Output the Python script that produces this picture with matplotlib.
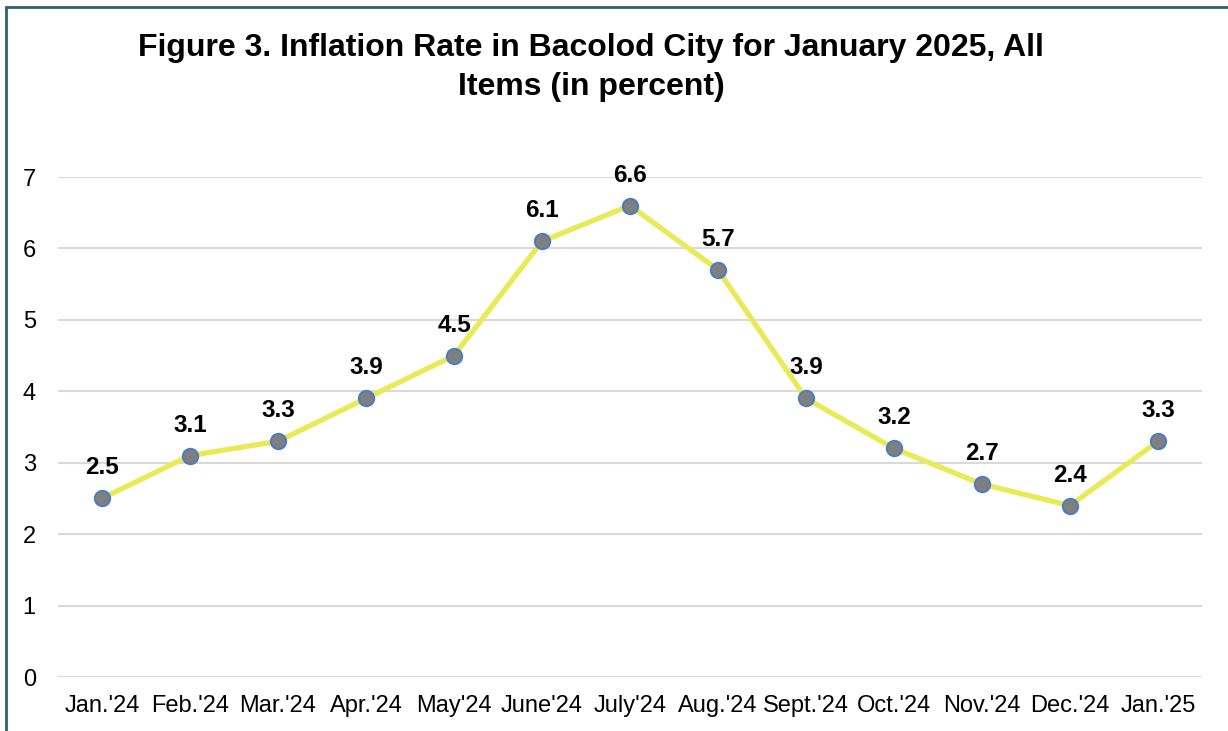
import matplotlib
matplotlib.use("Agg")
import matplotlib.pyplot as plt
from matplotlib.patches import Rectangle

months = ["Jan.'24", "Feb.'24", "Mar.'24", "Apr.'24", "May'24", "June'24", "July'24",
          "Aug.'24", "Sept.'24", "Oct.'24", "Nov.'24", "Dec.'24", "Jan.'25"]
inflation = [2.5, 3.1, 3.3, 3.9, 4.5, 6.1, 6.6, 5.7, 3.9, 3.2, 2.7, 2.4, 3.3]
yticks = [0, 1, 2, 3, 4, 5, 6, 7]

plt.rcParams['font.family'] = ['Liberation Sans', 'DejaVu Sans']

fig = plt.figure(figsize=(12.28, 7.31), dpi=100)
ax = fig.add_axes([58/1228, 1-677/731, (1202-58)/1228, (677-177)/731])

x = list(range(len(months)))
ax.plot(x, inflation, color='#E8EB57', lw=3.8, zorder=3, solid_capstyle='round')
ax.plot(x, inflation, ls='none', marker='o', ms=11, mfc='#7F7F7F', mec='#4A7EC4',
        mew=1.5, zorder=4)
for xi, v in zip(x, inflation):
    ax.annotate(f"{v:.1f}", (xi, v), xytext=(0, 22), textcoords='offset points',
                ha='center', va='center', fontsize=17.5, fontweight='bold', color='black')

ax.set_xlim(-0.5, len(months) - 0.5)
ax.set_ylim(0, 7)
ax.set_yticks(yticks)
ax.set_xticks(x)
ax.set_xticklabels(months)
ax.tick_params(axis='both', length=0, labelsize=17, colors='black')
ax.tick_params(axis='x', pad=13)
ax.tick_params(axis='y', pad=16)
ax.grid(axis='y', color='#D9D9D9', lw=1.5)
ax.set_axisbelow(True)
for s in ax.spines.values():
    s.set_visible(False)

fig.text(591/1228, 1-48/731, "Figure 3. Inflation Rate in Bacolod City for January 2025, All",
         ha='center', va='center', fontsize=23, fontweight='bold')
fig.text(591/1228, 1-87/731, "Items (in percent)",
         ha='center', va='center', fontsize=23, fontweight='bold')

fig.patches.append(Rectangle((6/1228, -0.1), 1.2, 1 - 7/731 + 0.1, transform=fig.transFigure,
                             fill=False, edgecolor='#2E6170', lw=2, clip_on=False))

fig.savefig("out.png", dpi=100)
